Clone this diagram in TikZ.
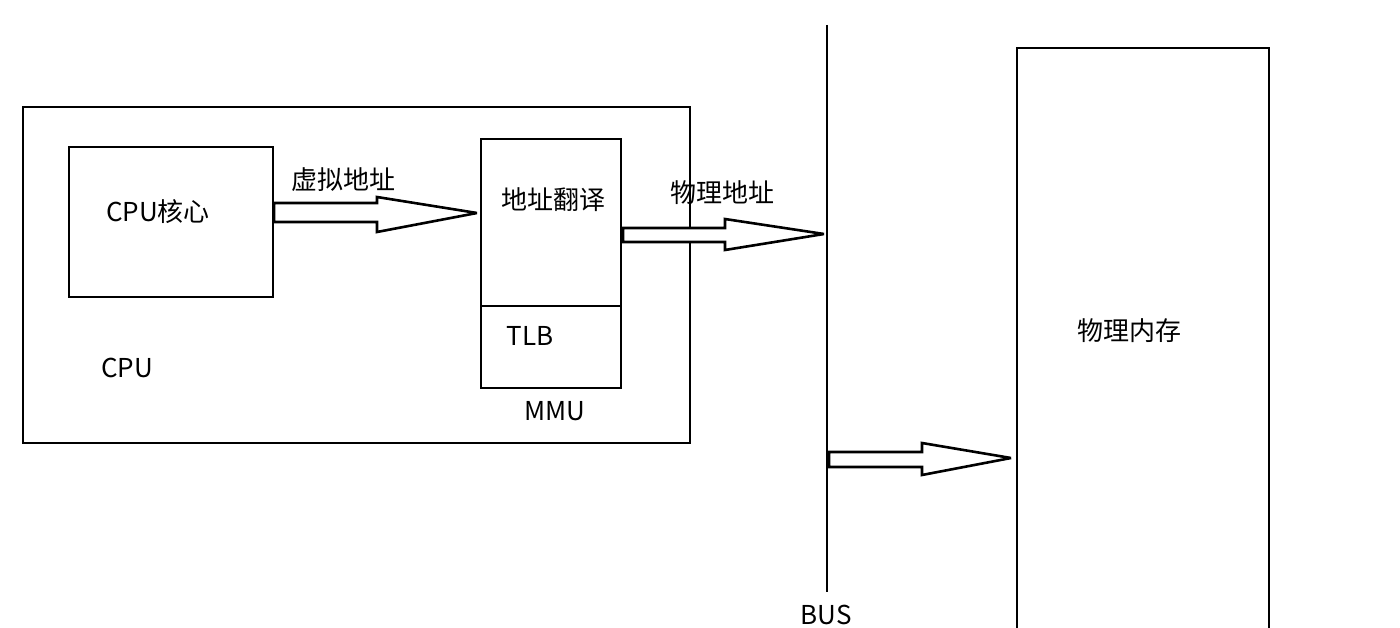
\documentclass[tikz,border=0pt]{standalone}
\usepackage{fontspec}
\setmainfont{Noto Sans CJK SC}
\begin{document}
\begin{tikzpicture}[x=1pt,y=-1pt,
  box/.style={draw=black,line width=2.6pt},
  fat/.style={draw=black,line width=2.6pt,fill=white,line join=miter,miter limit=4},
  lbl/.style={font=\fontsize{26}{30}\selectfont,inner sep=0pt,anchor=center}]
\useasboundingbox (0,0) rectangle (1400,628);
\fill[white] (0,0) rectangle (1400,628);
% CPU outer box
\draw[box] (23,107) rectangle (690,443);
\node[lbl] (cpulbl) at (127,368) {CPU};
% CPU core
\draw[box] (69,147) rectangle (273,297);
\node[lbl] (core) at (158,212) {CPU核心};
% MMU
\draw[box] (481,139) rectangle (621,388);
\draw[box] (481,306) -- (621,306);
\node[lbl] (trans) at (553,200) {地址翻译};
\node[lbl] (tlb) at (530,336) {TLB};
\node[lbl] (mmu) at (555,411) {MMU};
% BUS
\draw[box] (827,25) -- (827,592);
\node[lbl] (bus) at (826,615) {BUS};
% memory
\draw[box] (1017,628) -- (1017,48) -- (1269,48) -- (1269,628);
\node[lbl] (mem) at (1129,331) {物理内存};
% arrow labels
\node[lbl] (va) at (343,180) {虚拟地址};
\node[lbl] (pa) at (722,193) {物理地址};
% fat arrows
\draw[fat] (274,203) -- (377,203) -- (377,197) -- (477,213) -- (377,232) -- (377,222) -- (274,222) -- cycle;
\draw[fat] (623,228) -- (725,228) -- (725,219) -- (824,234) -- (725,250) -- (725,242) -- (623,242) -- cycle;
\draw[fat] (829,452) -- (922,452) -- (922,443) -- (1011,458) -- (922,475) -- (922,467) -- (829,467) -- cycle;
\end{tikzpicture}
\end{document}
